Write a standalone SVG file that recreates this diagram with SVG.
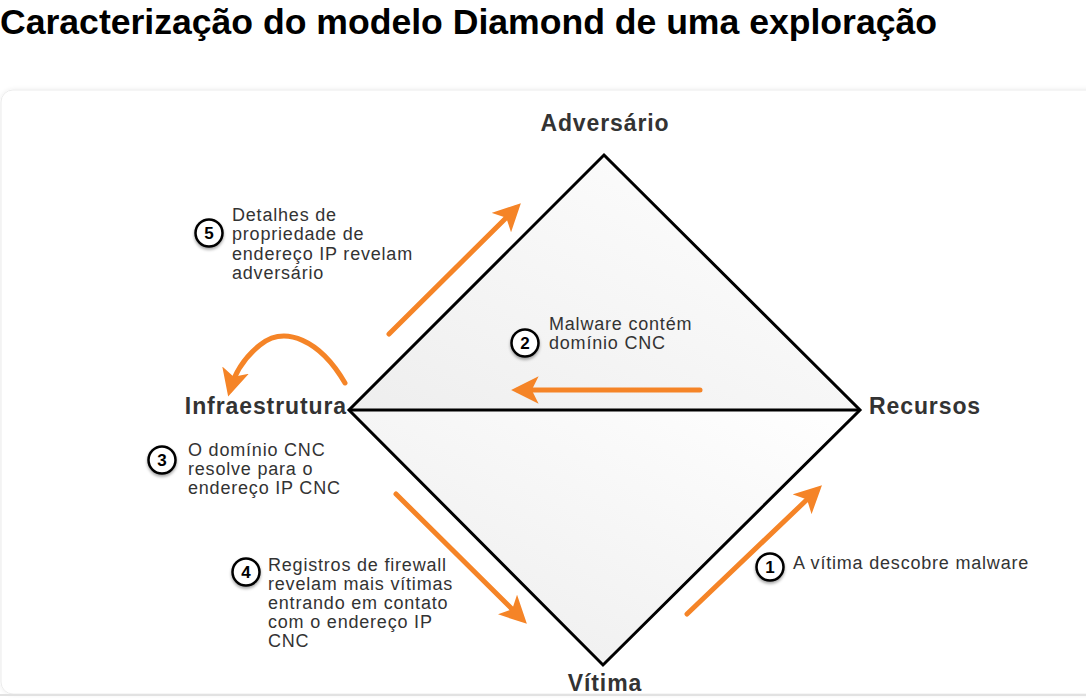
<svg xmlns="http://www.w3.org/2000/svg" width="1086" height="698" viewBox="0 0 1086 698">
<defs>
<style>
.title{font-family:"Liberation Sans",Arial,sans-serif;font-weight:bold;font-size:35px;fill:#000}
.lbl{font-family:"Liberation Sans",Arial,sans-serif;font-weight:bold;font-size:23px;letter-spacing:0.9px;fill:#333}
.txt{font-family:"Liberation Sans",Arial,sans-serif;font-size:18px;letter-spacing:0.8px;fill:#333}
.num{font-family:"Liberation Sans",Arial,sans-serif;font-weight:bold;font-size:17px;fill:#000;text-anchor:middle}
.circ{fill:#fff;stroke:#000;stroke-width:2.5;filter:url(#sh)}
.arr{fill:none;stroke:#F58427;stroke-width:5;stroke-linecap:round;marker-end:url(#ah)}
</style>
<linearGradient id="gtop" x1="1" y1="0" x2="0" y2="1">
<stop offset="0" stop-color="#ffffff"/><stop offset="1" stop-color="#eeeeee"/>
</linearGradient>
<linearGradient id="gbot" x1="1" y1="0" x2="0" y2="1">
<stop offset="0" stop-color="#ffffff"/><stop offset="1" stop-color="#ececec"/>
</linearGradient>
<filter id="sh" x="-30%" y="-30%" width="160%" height="170%">
<feDropShadow dx="0" dy="2" stdDeviation="1.5" flood-color="#000" flood-opacity="0.35"/>
</filter>
<filter id="cardsh" x="-5%" y="-5%" width="110%" height="110%">
<feDropShadow dx="0" dy="0" stdDeviation="2" flood-color="#000" flood-opacity="0.08"/>
</filter>
<marker id="ah" viewBox="0 0 12 12" refX="9" refY="6" markerWidth="5.5" markerHeight="5.5" orient="auto" markerUnits="strokeWidth">
<path d="M0,0 L12,6 L0,12 L3,6 Z" fill="#F58427"/>
</marker>
</defs>
<rect width="1086" height="698" fill="#fff"/>
<text class="title" x="0" y="34" textLength="937" lengthAdjust="spacingAndGlyphs">Caracterização do modelo Diamond de uma exploração</text>
<rect x="1" y="90" width="1100" height="604" rx="12" fill="#fff" stroke="#ececec" stroke-width="1" filter="url(#cardsh)"/>
<line x1="0" y1="695" x2="1086" y2="695" stroke="#e2e2e2" stroke-width="2"/>

<g id="diamond">
<polygon points="604,155 860,410 349,410" fill="url(#gtop)"/>
<polygon points="349,410 860,410 603,665" fill="url(#gbot)"/>
<polygon points="604,155 860,410 603,665 349,410" fill="none" stroke="#000" stroke-width="3" stroke-linejoin="miter"/>
<line x1="349" y1="410" x2="860" y2="410" stroke="#000" stroke-width="3"/>
</g>

<g id="node-adversario"><text class="lbl" x="605" y="131" text-anchor="middle">Adversário</text></g>
<g id="node-infraestrutura"><text class="lbl" x="347" y="414" text-anchor="end">Infraestrutura</text></g>
<g id="node-recursos"><text class="lbl" x="869" y="414">Recursos</text></g>
<g id="node-vitima"><text class="lbl" x="605" y="691" text-anchor="middle">Vítima</text></g>

<g id="connectors">
<path class="arr" d="M389,334 L516,208"/>
<path class="arr" d="M700,390 L518,390"/>
<path class="arr" d="M345,383 C320,340 285,325 260,345 C245,357 235,372 230,390"/>
<path class="arr" d="M396,494 L522,619"/>
<path class="arr" d="M687,614 L817,490"/>
</g>

<g id="step1">
<circle class="circ" cx="770" cy="567" r="13.5"/>
<text class="num" x="770" y="573">1</text>
<text class="txt" x="793" y="569">A vítima descobre malware</text>
</g>
<g id="step2">
<circle class="circ" cx="525" cy="343" r="13.5"/>
<text class="num" x="525" y="349">2</text>
<text class="txt" x="549" y="330">Malware contém</text>
<text class="txt" x="549" y="349">domínio CNC</text>
</g>
<g id="step3">
<circle class="circ" cx="162" cy="460" r="13.5"/>
<text class="num" x="162" y="466">3</text>
<text class="txt" x="188" y="456">O domínio CNC</text>
<text class="txt" x="188" y="475">resolve para o</text>
<text class="txt" x="188" y="494">endereço IP CNC</text>
</g>
<g id="step4">
<circle class="circ" cx="246" cy="572" r="13.5"/>
<text class="num" x="246" y="578">4</text>
<text class="txt" x="268" y="571">Registros de firewall</text>
<text class="txt" x="268" y="590">revelam mais vítimas</text>
<text class="txt" x="268" y="609">entrando em contato</text>
<text class="txt" x="268" y="628">com o endereço IP</text>
<text class="txt" x="268" y="647">CNC</text>
</g>
<g id="step5">
<circle class="circ" cx="209" cy="233" r="13.5"/>
<text class="num" x="209" y="239">5</text>
<text class="txt" x="232" y="221">Detalhes de</text>
<text class="txt" x="232" y="240">propriedade de</text>
<text class="txt" x="232" y="260">endereço IP revelam</text>
<text class="txt" x="232" y="279">adversário</text>
</g>
</svg>
